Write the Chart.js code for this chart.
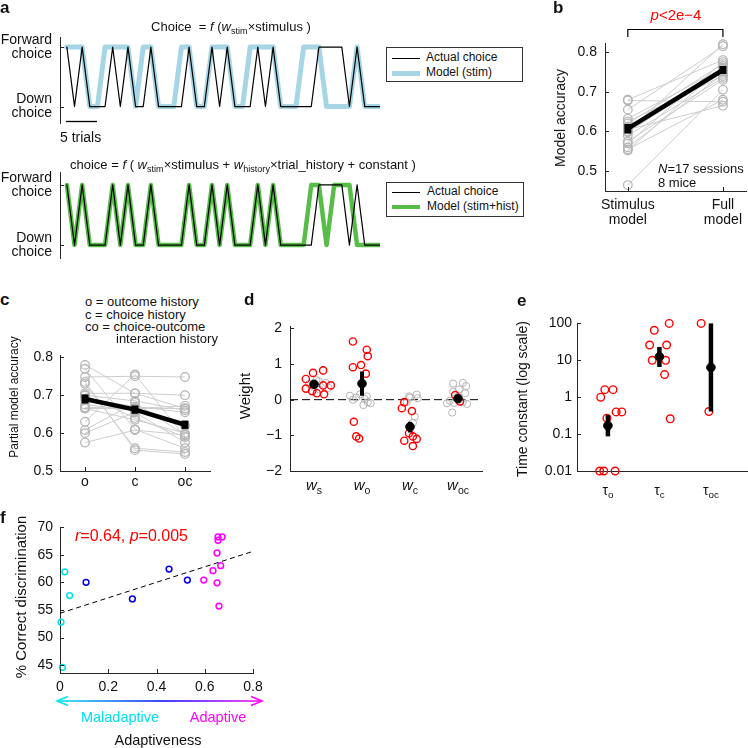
<!DOCTYPE html>
<html>
<head>
<meta charset="utf-8">
<script src="https://cdn.jsdelivr.net/npm/chart.js@4.4.1/dist/chart.umd.min.js"></script>
<style>
  html, body { margin: 0; padding: 0; background: #fff; }
  #fig { position: relative; width: 748px; height: 748px; overflow: hidden;
         font-family: 'Liberation Sans', Arial, Helvetica, sans-serif; color: #111; }
  #fig canvas { position: absolute; }
  .t { position: absolute; white-space: nowrap; line-height: 1.15; }
  .t sub { font-size: 0.7em; vertical-align: -0.35em; line-height: 0; }
  .box { position: absolute; border: 1px solid #333; background: #fff; box-sizing: border-box; }
  .bar { position: absolute; }
</style>
</head>
<body>
<div id="fig">
  <canvas id="a1"></canvas>
  <canvas id="a2"></canvas>
  <canvas id="cb"></canvas>
  <canvas id="cc"></canvas>
  <canvas id="cd"></canvas>
  <canvas id="ce"></canvas>
  <canvas id="cf"></canvas>
</div>
<script>
// ---- panel a : choices per trial (1 = forward, 0 = down)
var actualChoice = [1,0,1,0,0,0,1,0,1,0, 0,1,0,0,0,0,1,0,0,1, 0,1,0,0,0,1,0,1,0,0, 0,0,0,1,1,1,1,0,1,0, 0,0];
var stimModel    = [1,1,1,0,0,1,1,1,1,0, 1,1,0,0,0,1,1,0,0,1, 1,1,0,0,1,1,1,1,0,0, 0,1,1,1,0,0,0,0,1,0, 0,0];
var fullModel    = [1,0,1,0,0,0,1,0,1,0, 0,1,0,0,0,0,1,0,0,1, 0,1,0,0,0,1,0,1,0,0, 0,0,1,1,0,1,1,1,0,0, 0,0];

// ---- panel b : model accuracy per session
var stimAcc = [0.68, 0.678, 0.655, 0.632, 0.625, 0.62, 0.612, 0.605, 0.60, 0.598, 0.59, 0.575, 0.57, 0.56, 0.555, 0.552, 0.465];
var fullAcc = [0.78, 0.675, 0.815, 0.76, 0.74, 0.77, 0.75, 0.665, 0.82, 0.755, 0.735, 0.73, 0.775, 0.745, 0.68, 0.765, 0.705];
var bMean = [0.607, 0.755];
var bSem = [0.012, 0.01];
var bTicks = [0.5, 0.6, 0.7, 0.8];
var bLabels = [['Stimulus', 'model'], ['Full', 'model']];

// ---- panel c : partial model accuracy
var cLabels = ['o', 'c', 'oc'];
var outcomeAcc = [0.78, 0.77, 0.748, 0.735, 0.73, 0.705, 0.70, 0.69, 0.675, 0.668, 0.665, 0.665, 0.63, 0.608, 0.60, 0.575, 0.70];
var choiceAcc  = [0.705, 0.61, 0.75, 0.555, 0.56, 0.705, 0.685, 0.67, 0.66, 0.665, 0.665, 0.635, 0.755, 0.68, 0.655, 0.608, 0.64];
var interAcc   = [0.665, 0.56, 0.748, 0.545, 0.55, 0.70, 0.66, 0.655, 0.62, 0.665, 0.672, 0.60, 0.59, 0.595, 0.575, 0.595, 0.59];
var cMean = [0.69, 0.662, 0.622];
var cSem = [0.012, 0.011, 0.011];
var cTicks = [0.5, 0.6, 0.7, 0.8];

// ---- panel d : weights (red = significant, gray = not), jitter in category units
var dNames = ['s', 'o', 'c', 'oc'];
var dRedW = [
  [0.58, 0.75, 0.82, 0.31, 0.24, 0.18, 0.15, 0.40, 0.40],
  [1.63, 1.40, 1.22, 0.97, 0.91, 0.73, -0.62, -1.03, -1.09],
  [-0.07, -0.24, -0.32, -0.94, -1.03, -1.10, -1.15, -1.30],
  [0.13, -0.05]
];
var dRedJit = [
  [-0.17, -0.02, 0.19, -0.17, -0.04, 0.06, 0.21, 0.35, 0.19],
  [-0.19, 0.10, 0.12, -0.02, -0.19, 0.08, -0.17, -0.12, -0.06],
  [-0.12, -0.17, 0.04, -0.02, 0.06, 0.14, -0.12, 0.06],
  [-0.06, 0.04]
];
var dGrayW = [
  [0.52, 0.47, 0.36, 0.28, 0.44, 0.55, 0.33],
  [0.11, 0.06, 0.15, 0.02, -0.07, 0.0, -0.15, 0.09, -0.10],
  [0.14, 0.06, -0.07, -0.48, -0.65, 0.09, 0.04],
  [0.45, 0.47, 0.38, 0.22, 0.29, 0.18, -0.03, -0.09, -0.07, -0.12, -0.36, 0.09, -0.10]
];
var dGrayJit = [
  [0.10, 0.25, 0.0, 0.12, -0.10, 0.05, 0.30],
  [-0.25, -0.12, -0.04, 0.06, 0.12, -0.19, 0.03, 0.10, 0.18],
  [0.14, 0.0, -0.07, 0.10, 0.06, -0.02, 0.16],
  [-0.10, 0.10, 0.17, -0.10, 0.02, 0.15, -0.17, -0.08, 0.10, 0.19, -0.12, 0.0, -0.23]
];
var dMean = [0.43, 0.45, -0.76, 0.03];
var dLo = [0.36, 0.11, -0.92, -0.02];
var dHi = [0.50, 0.79, -0.62, 0.08];
var dTicks = [-2, -1, 0, 1, 2];

// ---- panel e : time constants (log)
var eNames = ['o', 'c', 'oc'];
var eRedTau = [
  [1.0, 1.6, 1.6, 0.27, 0.4, 0.4, 0.01, 0.01, 0.01],
  [26, 65, 100, 10, 10, 26, 4.1, 0.26],
  [100, 0.41]
];
var eRedJit = [
  [-0.14, -0.06, 0.10, -0.02, 0.16, 0.27, -0.16, -0.08, 0.14],
  [-0.19, -0.10, 0.19, -0.14, 0.12, 0.14, 0.10, 0.21],
  [-0.19, -0.04]
];
var eMean = [0.17, 12.5, 6.4];
var eLo = [0.087, 6.6, 0.41];
var eHi = [0.33, 23, 100];
var eTicks = [0.01, 0.1, 1, 10, 100];

// ---- panel f : adaptiveness vs % correct
var adaptCyan = [0.004, 0.01, 0.02, 0.04];
var correctCyan = [52.8, 44.6, 61.9, 57.6];
var adaptBlue = [0.108, 0.30, 0.452, 0.528];
var correctBlue = [60.0, 57.0, 62.4, 60.4];
var adaptMag = [0.596, 0.634, 0.651, 0.651, 0.655, 0.655, 0.672, 0.666, 0.659];
var correctMag = [60.4, 62.1, 59.9, 65.3, 67.6, 68.2, 68.2, 63.0, 55.7];
var fitIntercept = 54.4, fitSlope = 14;
var fXTicks = [0, 0.2, 0.4, 0.6, 0.8];
var fYTicks = [45, 50, 55, 60, 65, 70];

var AXIS = '#262626', TXT = '#111';
var RED = '#ff0000', GRAY = '#b3b3b3';
Chart.defaults.font.family = "'Liberation Sans', Arial, Helvetica, sans-serif";
Chart.defaults.font.size = 14;
Chart.defaults.color = TXT;
Chart.defaults.animation = false;
Chart.defaults.plugins.legend.display = false;
Chart.defaults.plugins.tooltip.enabled = false;

function mkChart(id, box, area, yW, xH, cfg) {
  var c = document.getElementById(id);
  c.width = box[2]; c.height = box[3];
  c.style.left = box[0] + 'px'; c.style.top = box[1] + 'px';
  cfg.options.layout = { autoPadding: false, padding: {
    left: area[0] - box[0] - yW, top: area[1] - box[1],
    right: box[0] + box[2] - area[2], bottom: box[1] + box[3] - area[3] - xH } };
  cfg.options.responsive = false;
  cfg.options.events = [];
  return new Chart(c, cfg);
}

function axis(type, min, max, ticks, fmt, size, pad, show, lh) {
  return {
    type: type, min: min, max: max,
    grid: { display: false, drawTicks: false },
    border: { display: true, color: AXIS, width: 1 },
    ticks: { display: show, padding: pad, autoSkip: false, maxRotation: 0, color: TXT,
             font: { size: 14, lineHeight: lh || 1.2 }, callback: fmt },
    afterBuildTicks: function (s) { s.ticks = ticks.map(function (v) { return { value: v }; }); },
    afterFit: function (s) { if (s.isHorizontal()) s.height = size; else s.width = size; }
  };
}

function ticksIn(axes) {
  return {
    id: 'ticksIn',
    afterDraw: function (chart) {
      var ctx = chart.ctx, a = chart.chartArea;
      ctx.save();
      ctx.strokeStyle = AXIS;
      ctx.lineWidth = 1;
      axes.forEach(function (k) {
        var s = chart.scales[k];
        s.ticks.forEach(function (t) {
          var p = Math.round(s.getPixelForValue(t.value)) + 0.5;
          ctx.beginPath();
          if (k === 'x') { ctx.moveTo(p, a.bottom); ctx.lineTo(p, a.bottom - 4); }
          else { ctx.moveTo(a.left, p); ctx.lineTo(a.left + 4, p); }
          ctx.stroke();
        });
      });
      ctx.restore();
    }
  };
}

function trace(vals, color, w, order) {
  return { data: vals.map(function (v, i) { return { x: i, y: v }; }), showLine: true,
           borderColor: color, borderWidth: w, pointRadius: 0, borderJoinStyle: 'round',
           borderCapStyle: 'round', order: order };
}

function seg(p, color, w, order, dash) {
  return { data: p, showLine: true, borderColor: color, borderWidth: w, pointRadius: 0,
           borderCapStyle: 'butt', borderDash: dash || [], order: order, clip: false };
}

function dots(p, color, r, bw, fill, order) {
  return { data: p, showLine: false, pointRadius: r, pointBorderColor: color, pointBorderWidth: bw,
           pointBackgroundColor: fill || 'rgba(0,0,0,0)', order: order, clip: false };
}

function choiceLabel(v) { return v === 1 ? ['Forward', 'choice'] : ['Down', 'choice']; }

// ---------- panel a
var scaleBar = {
  id: 'scaleBar',
  afterDraw: function (chart) {
    var ctx = chart.ctx, a = chart.chartArea;
    ctx.save(); ctx.strokeStyle = '#000'; ctx.lineWidth = 1.3;
    ctx.beginPath(); ctx.moveTo(a.left + 6, a.bottom - 1.5); ctx.lineTo(a.left + 37, a.bottom - 1.5); ctx.stroke();
    ctx.restore();
  }
};

mkChart('a1', [0, 15, 385, 130], [60, 33, 380, 127], 60, 0, {
  type: 'scatter',
  data: { datasets: [trace(actualChoice, '#000', 1.2, 0), trace(stimModel, '#a6d6e5', 5, 1)] },
  options: { scales: {
    x: { type: 'linear', display: false, min: -0.9, max: 41 },
    y: axis('linear', -0.277, 1.169, [0, 1], choiceLabel, 60, 8, true, 1.0)
  } },
  plugins: [ticksIn(['y']), scaleBar]
});

mkChart('a2', [0, 150, 385, 130], [60, 169, 380, 262], 60, 0, {
  type: 'scatter',
  data: { datasets: [trace(actualChoice, '#000', 1.2, 0), trace(fullModel, '#58bd48', 4.5, 1)] },
  options: { scales: {
    x: { type: 'linear', display: false, min: -0.9, max: 41 },
    y: axis('linear', -0.215, 1.215, [0, 1], choiceLabel, 60, 8, true, 1.0)
  } },
  plugins: [ticksIn(['y'])]
});

// ---------- panel b
var bSets = [];
bSets.push(seg(bMean.map(function (m, i) { return { x: i + 1, y: m }; }), '#000', 4.5, 0));
bMean.forEach(function (m, i) {
  bSets.push(seg([{ x: i + 1, y: m - bSem[i] }, { x: i + 1, y: m + bSem[i] }], '#000', 7, 0));
});
stimAcc.forEach(function (s, i) {
  bSets.push({ data: [{ x: 1, y: s }, { x: 2, y: fullAcc[i] }], showLine: true, borderColor: '#cdcdcd',
               borderWidth: 1, pointRadius: 4.3, pointBorderColor: GRAY, pointBorderWidth: 1.2,
               pointBackgroundColor: 'rgba(0,0,0,0)', order: 2, clip: false });
});
var bracket = {
  id: 'bracket',
  afterDraw: function (chart) {
    var ctx = chart.ctx, x = chart.scales.x;
    var x1 = x.getPixelForValue(1), x2 = x.getPixelForValue(2);
    ctx.save(); ctx.strokeStyle = '#000'; ctx.lineWidth = 1.2;
    ctx.beginPath(); ctx.moveTo(x1, 37); ctx.lineTo(x1, 29.5); ctx.lineTo(x2, 29.5); ctx.lineTo(x2, 37); ctx.stroke();
    ctx.restore();
  }
};
mkChart('cb', [440, 0, 308, 235], [605, 43, 748, 191], 40, 44, {
  type: 'scatter',
  data: { datasets: bSets },
  options: { scales: {
    x: axis('linear', 0.76, 2.25, [1, 2], function (v) { return bLabels[v - 1]; }, 44, 6, true, 1.1),
    y: axis('linear', 0.45, 0.823, bTicks, function (v) { return v.toFixed(1); }, 40, 8, true)
  } },
  plugins: [ticksIn(['x', 'y']), bracket]
});

// ---------- panel c
var cSets = [];
cSets.push(seg(cMean.map(function (m, i) { return { x: i + 1, y: m }; }), '#000', 4.5, 0));
cMean.forEach(function (m, i) {
  cSets.push(seg([{ x: i + 1, y: m - cSem[i] }, { x: i + 1, y: m + cSem[i] }], '#000', 7, 0));
});
outcomeAcc.forEach(function (o, i) {
  cSets.push({ data: [{ x: 1, y: o }, { x: 2, y: choiceAcc[i] }, { x: 3, y: interAcc[i] }], showLine: true,
               borderColor: '#cdcdcd', borderWidth: 1, pointRadius: 4.3, pointBorderColor: GRAY,
               pointBorderWidth: 1.2, pointBackgroundColor: 'rgba(0,0,0,0)', order: 2, clip: false });
});
mkChart('cc', [0, 340, 245, 160], [60, 349, 210, 471], 45, 25, {
  type: 'scatter',
  data: { datasets: cSets },
  options: { scales: {
    x: axis('linear', 0.5, 3.5, [1, 2, 3], function (v) { return cLabels[v - 1]; }, 25, 3, true),
    y: axis('linear', 0.5, 0.805, cTicks, function (v) { return v.toFixed(1); }, 45, 7, true)
  } },
  plugins: [ticksIn(['x', 'y'])]
});

// ---------- panel d
var dSets = [];
dMean.forEach(function (m, k) {
  dSets.push(seg([{ x: k + 1, y: dLo[k] }, { x: k + 1, y: dHi[k] }], '#000', 4, 0));
});
dSets.push(dots(dMean.map(function (m, k) { return { x: k + 1, y: m }; }), '#000', 4.3, 1, '#000', 0));
var dRedPts = [], dGrayPts = [];
dRedW.forEach(function (col, k) { col.forEach(function (v, j) { dRedPts.push({ x: k + 1 + dRedJit[k][j], y: v }); }); });
dGrayW.forEach(function (col, k) { col.forEach(function (v, j) { dGrayPts.push({ x: k + 1 + dGrayJit[k][j], y: v }); }); });
dSets.push(dots(dRedPts, RED, 3.6, 1.4, null, 1));
dSets.push(dots(dGrayPts, GRAY, 3.6, 1, null, 2));
dSets.push(seg([{ x: 0.5, y: 0 }, { x: 4.5, y: 0 }], '#000', 1, 3, [8, 4]));
var chartD = mkChart('cd', [250, 310, 245, 190], [290, 321, 482, 471], 30, 10, {
  type: 'scatter',
  data: { datasets: dSets },
  options: { scales: {
    x: axis('linear', 0.5, 4.5, [1, 2, 3, 4], null, 10, 3, false),
    y: axis('linear', -2, 2.054, dTicks, function (v) { return v < 0 ? '\u2212' + Math.abs(v) : String(v); }, 30, 8, true)
  } },
  plugins: [ticksIn(['x', 'y'])]
});

// ---------- panel e
var eSets = [];
eMean.forEach(function (m, k) {
  eSets.push(seg([{ x: k + 1, y: eLo[k] }, { x: k + 1, y: eHi[k] }], '#000', 4.5, 0));
});
eSets.push(dots(eMean.map(function (m, k) { return { x: k + 1, y: m }; }), '#000', 4.3, 1, '#000', 0));
var eRedPts = [];
eRedTau.forEach(function (col, k) { col.forEach(function (v, j) { eRedPts.push({ x: k + 1 + eRedJit[k][j], y: v }); }); });
eSets.push(dots(eRedPts, RED, 3.8, 1.4, null, 1));
var chartE = mkChart('ce', [495, 310, 253, 190], [577, 323, 747, 471], 40, 10, {
  type: 'scatter',
  data: { datasets: eSets },
  options: { scales: {
    x: axis('linear', 0.4, 3.7, [1, 2, 3], null, 10, 3, false),
    y: axis('logarithmic', 0.01, 100, eTicks, function (v) { return String(v); }, 40, 5, true)
  } },
  plugins: [ticksIn(['x', 'y'])]
});

// ---------- panel f
function pairs(xs, ys) { return xs.map(function (x, i) { return { x: x, y: ys[i] }; }); }
var arrow = {
  id: 'arrow',
  afterDraw: function (chart) {
    var ctx = chart.ctx, xs = chart.scales.x;
    var x0 = xs.left - 3, x1 = xs.right + 9, y = 191;
    var g = ctx.createLinearGradient(x0, 0, x1, 0);
    g.addColorStop(0, '#00e5ee'); g.addColorStop(0.52, '#0000ff'); g.addColorStop(1, '#ff00ff');
    ctx.save(); ctx.lineWidth = 1.6;
    ctx.strokeStyle = g;
    ctx.beginPath(); ctx.moveTo(x0, y); ctx.lineTo(x1, y); ctx.stroke();
    ctx.strokeStyle = '#00e5ee';
    ctx.beginPath(); ctx.moveTo(x0 + 11, y - 4.5); ctx.lineTo(x0, y); ctx.lineTo(x0 + 11, y + 4.5); ctx.stroke();
    ctx.strokeStyle = '#ff00ff';
    ctx.beginPath(); ctx.moveTo(x1 - 11, y - 4.5); ctx.lineTo(x1, y); ctx.lineTo(x1 - 11, y + 4.5); ctx.stroke();
    ctx.restore();
  }
};
mkChart('cf', [0, 510, 300, 238], [60, 527, 253, 673], 40, 25, {
  type: 'scatter',
  data: { datasets: [
    dots(pairs(adaptCyan, correctCyan), '#00e0e8', 2.9, 1.5, null, 0),
    dots(pairs(adaptBlue, correctBlue), '#0000e0', 2.9, 1.5, null, 0),
    dots(pairs(adaptMag, correctMag), '#ff00ff', 2.9, 1.5, null, 0),
    seg([{ x: 0, y: fitIntercept }, { x: 0.8, y: fitIntercept + fitSlope * 0.8 }], '#000', 1, 1, [5, 3.5])
  ] },
  options: { scales: {
    x: axis('linear', 0, 0.8, fXTicks, function (v) { return v === 0 ? '0' : v.toFixed(1); }, 25, 6, true),
    y: axis('linear', 43.6, 70, fYTicks, function (v) { return String(v); }, 40, 7, true)
  } },
  plugins: [ticksIn(['x', 'y']), arrow]
});

// ---------- text
var fig = document.getElementById('fig');
function txt(html, x, y, o) {
  o = o || {};
  var d = document.createElement('div');
  d.className = 't';
  d.innerHTML = html;
  d.style.left = x + 'px'; d.style.top = y + 'px';
  d.style.fontSize = (o.size || 14) + 'px';
  if (o.color) d.style.color = o.color;
  var ax = o.align === 'left' ? '0' : (o.align === 'right' ? '-100%' : '-50%');
  d.style.transform = 'translate(' + ax + ',-50%)' + (o.rot ? ' rotate(-90deg)' : '');
  fig.appendChild(d);
}
function rect(cls, x, y, w, h, bg) {
  var d = document.createElement('div');
  d.className = cls;
  d.style.left = x + 'px'; d.style.top = y + 'px';
  d.style.width = w + 'px'; d.style.height = h + 'px';
  if (bg) d.style.background = bg;
  fig.appendChild(d);
}

txt('<b>a</b>', 0, 8, { size: 17, align: 'left' });
txt('Choice &nbsp;= <i>f</i> (<i>w</i><sub>stim</sub>×stimulus )', 231, 27, { size: 13 });
txt('5 trials', 60, 137, { size: 14, align: 'left' });
txt('choice = <i>f</i> ( <i>w</i><sub>stim</sub>×stimulus + <i>w</i><sub>history</sub>×trial_history + constant )', 70, 165, { size: 13, align: 'left' });

rect('box', 386, 47, 137, 35);
rect('bar', 392, 57.5, 28, 1.2, '#000');
rect('bar', 392, 70.5, 28, 5, '#a6d6e5');
txt('Actual choice', 426, 58, { size: 12, align: 'left' });
txt('Model (stim)', 426, 72.5, { size: 12, align: 'left' });

rect('box', 386, 182, 138, 35);
rect('bar', 392, 191.5, 28, 1.2, '#000');
rect('bar', 392, 204.8, 28, 4.5, '#58bd48');
txt('Actual choice', 427, 192, { size: 12, align: 'left' });
txt('Model (stim+hist)', 427, 207, { size: 12, align: 'left' });

txt('<b>b</b>', 553, 8, { size: 17, align: 'left' });
txt('<i>p</i>&lt;2e\u22124', 676, 15, { size: 15, color: RED });
txt('Model accuracy', 560, 118, { size: 14, rot: true });
txt('<i>N</i>=17 sessions', 658, 169, { size: 13, align: 'left' });
txt('8 mice', 658, 183, { size: 13, align: 'left' });

txt('<b>c</b>', 0, 300, { size: 17, align: 'left' });
txt('o = outcome history', 85, 302, { size: 13, align: 'left' });
txt('c = choice history', 85, 314.5, { size: 13, align: 'left' });
txt('co = choice-outcome', 85, 327, { size: 13, align: 'left' });
txt('interaction history', 116, 339, { size: 13, align: 'left' });
txt('Partial model accuracy', 15, 397, { size: 12, rot: true });

txt('<b>d</b>', 244, 300, { size: 17, align: 'left' });
txt('Weight', 245, 396, { size: 15, rot: true });
dNames.forEach(function (n, k) {
  txt('<i>w</i><sub>' + n + '</sub>', 250 + chartD.scales.x.getPixelForValue(k + 1), 485, { size: 15 });
});

txt('<b>e</b>', 517, 301, { size: 17, align: 'left' });
txt('Time constant (log scale)', 522, 399, { size: 14, rot: true });
eNames.forEach(function (n, k) {
  txt('\u03c4<sub>' + n + '</sub>', 495 + chartE.scales.x.getPixelForValue(k + 1), 490, { size: 14 });
});

txt('<b>f</b>', 0, 518, { size: 17, align: 'left' });
txt('<i>r</i>=0.64, <i>p</i>=0.005', 75, 536, { size: 16, color: RED, align: 'left' });
txt('% Correct discrimination', 21, 597, { size: 15, rot: true });
txt('Maladaptive', 120, 717, { size: 14.5, color: '#00e0ee' });
txt('Adaptive', 218, 717, { size: 14.5, color: '#ff00ff' });
txt('Adaptiveness', 158, 740, { size: 14.5 });
</script>
</body>
</html>
